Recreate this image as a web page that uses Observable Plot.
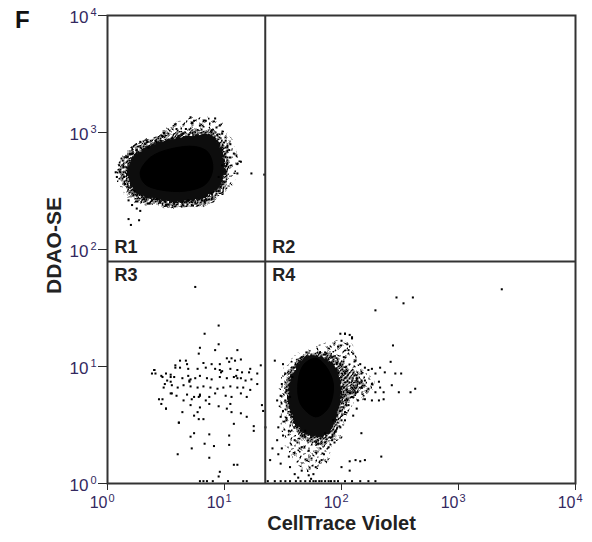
<!DOCTYPE html>
<html>
<head>
<meta charset="utf-8">
<script src="https://cdn.jsdelivr.net/npm/d3@7"></script>
<script src="https://cdn.jsdelivr.net/npm/@observablehq/plot@0.6"></script>
<style>
  body { margin: 0; background: #fff; }
  #wrap { position: relative; width: 592px; height: 542px; }
  #letter { position: absolute; left: 15px; top: 6px; font: bold 24px 'Liberation Sans', Arial, sans-serif; color: #111; }
</style>
</head>
<body>
<div id="wrap"><div id="chart"></div><div id="letter"></div></div>
<script>
// ---- Data (log10 of intensity: [CellTrace Violet, DDAO-SE]) ----
const panelLetter = "F";
const xTitle = ["CellTrace Violet"];
const yTitle = ["DDAO-SE"];
const decadeTicks = [1, 10, 100, 1000, 10000];
const decadeExponents = ["0", "1", "2", "3", "4"];
const gateX = [22.3];
const gateY = [79];
const regionNames = ["R1", "R2", "R3", "R4"];

// population outlines: sparse halo, dense fringe, body, core
const r1Halo = [[0.07,2.66],[0.12,2.80],[0.25,2.90],[0.40,2.96],[0.58,3.08],[0.75,3.13],[0.93,3.11],[1.05,2.95],[1.12,2.76],[1.08,2.58],[0.96,2.45],[0.80,2.38],[0.55,2.35],[0.33,2.38],[0.18,2.45],[0.10,2.55]];
const r1Fringe = [[0.11,2.65],[0.15,2.80],[0.27,2.91],[0.44,2.97],[0.67,3.02],[0.91,3.02],[1.02,2.89],[1.05,2.72],[1.00,2.51],[0.86,2.40],[0.62,2.36],[0.40,2.38],[0.22,2.44],[0.14,2.54]];
const r1Outer = [[0.17,2.65],[0.20,2.76],[0.30,2.86],[0.45,2.92],[0.67,2.97],[0.89,2.97],[0.97,2.86],[1.00,2.72],[0.96,2.54],[0.84,2.45],[0.62,2.41],[0.41,2.43],[0.26,2.48],[0.19,2.56]];
const r1Core = [[0.28,2.66],[0.37,2.79],[0.54,2.86],[0.75,2.88],[0.86,2.83],[0.90,2.69],[0.84,2.56],[0.67,2.50],[0.45,2.51],[0.32,2.56]];
const r4Halo = [[1.47,0.70],[1.50,0.98],[1.62,1.10],[1.80,1.17],[1.97,1.22],[2.08,1.20],[2.15,1.02],[2.26,0.92],[2.28,0.80],[2.15,0.72],[2.05,0.60],[2.00,0.42],[1.90,0.25],[1.80,0.12],[1.68,0.12],[1.58,0.22],[1.50,0.40]];
const r4Fringe = [[1.54,0.62],[1.53,0.85],[1.60,1.03],[1.70,1.11],[1.85,1.13],[1.97,1.08],[2.08,0.97],[2.17,0.90],[2.20,0.83],[2.12,0.76],[2.03,0.68],[1.99,0.50],[1.92,0.37],[1.80,0.32],[1.68,0.37],[1.59,0.47]];
const r4Outer = [[1.78,1.09],[1.93,1.02],[2.00,0.82],[1.96,0.60],[1.89,0.43],[1.78,0.40],[1.63,0.48],[1.56,0.65],[1.55,0.82],[1.62,1.01],[1.69,1.08]];
const r4Core = [[1.78,1.07],[1.86,1.01],[1.93,0.85],[1.89,0.65],[1.78,0.57],[1.65,0.68],[1.63,0.88],[1.68,1.02]];

// individual events
const r1Events = [[0.71,3.13],[0.74,3.10],[0.58,3.07],[0.59,3.03],[0.84,3.10],[0.92,3.12],[0.96,3.06],[0.79,3.06],[0.67,3.03],[0.52,2.99],[0.47,2.97],[0.41,2.93],[0.34,2.92],[0.28,2.92],[0.98,2.99],[1.01,2.93],[1.05,2.90],[1.04,2.85],[1.08,2.82],[1.01,2.79],[0.98,2.72],[1.02,2.73],[1.11,2.73],[1.14,2.75],[1.11,2.65],[1.23,2.65],[0.95,2.62],[0.99,2.58],[0.95,2.50],[0.89,2.48],[0.84,2.43],[0.81,2.42],[0.75,2.40],[0.69,2.42],[0.64,2.40],[0.57,2.39],[0.50,2.38],[0.45,2.40],[0.38,2.42],[0.31,2.43],[0.25,2.46],[0.23,2.50],[0.18,2.53],[0.15,2.56],[0.14,2.62],[0.11,2.66],[0.10,2.72],[0.13,2.76],[0.17,2.79],[0.21,2.82],[0.25,2.85],[0.18,2.42],[0.21,2.38],[0.25,2.35],[0.28,2.33],[0.18,2.26],[0.27,2.25],[0.20,2.21],[0.35,2.87],[0.07,2.66],[0.08,2.62],[0.72,2.38],[0.42,2.43],[0.89,3.02],[0.64,2.99],[0.75,3.00],[1.34,2.64]];

const r4Events = [[2.03,1.28],[2.07,1.27],[2.00,1.22],[2.05,1.19],[2.09,1.24],[1.97,1.17],[2.06,1.14],[2.10,1.11],[2.02,1.08],[2.12,1.05],[2.16,1.02],[2.20,0.99],[2.23,0.97],[2.26,0.98],[2.29,0.94],[2.17,0.94],[2.13,0.90],[2.20,0.88],[2.26,0.85],[2.32,0.87],[2.33,0.82],[2.36,0.78],[2.29,0.78],[2.23,0.81],[2.17,0.82],[2.12,0.78],[2.09,0.74],[2.14,0.71],[2.20,0.72],[2.26,0.71],[2.32,0.71],[2.36,0.72],[2.06,0.67],[2.13,0.64],[2.03,0.61],[2.10,0.58],[2.00,0.54],[2.44,1.18],[2.42,1.04],[2.46,0.94],[2.51,0.94],[2.43,0.84],[2.49,0.78],[2.59,0.78],[2.63,0.81],[2.37,0.95],[2.33,0.99],
  [1.50,1.02],[1.43,1.05],[1.52,0.94],[1.49,0.85],[1.53,0.80],[1.48,0.75],[1.45,0.71],[1.52,0.71],[1.50,0.62],[1.48,0.57],[1.46,0.48],[1.53,0.54],[1.55,0.45],[1.50,0.41],[1.45,0.37],[1.49,0.30],[1.41,0.30],[1.46,0.25],[1.39,0.20],[1.48,0.17],[1.55,0.23],[1.56,0.14],[1.60,0.08],[1.63,0.05],[1.66,0.11],[1.72,0.07],[1.76,0.08],[1.78,0.14],[1.83,0.20],[1.85,0.25],[1.72,0.28],[1.66,0.31],[1.60,0.37],[1.69,0.40],[1.80,0.34],[1.89,0.31],[1.92,0.37],[1.95,0.45],[1.99,0.48],[2.03,0.54],[2.17,0.43],[2.20,0.20],[2.34,0.23],[2.12,0.20],[2.00,0.14],[2.07,0.11],[1.74,0.04],
  [1.70,1.12],[1.66,1.08],[1.86,1.12],[1.92,1.08],[1.59,0.99],[1.58,0.91],[1.56,0.74],[1.58,0.57],[1.62,0.48],[1.69,0.45],[1.86,0.43],[1.93,0.54],[1.99,0.62],[2.03,0.71],[2.02,0.82],[2.03,0.94],[1.99,1.02],
  [2.47,1.59],[2.61,1.59],[2.53,1.54],[2.29,1.48],[3.37,1.66],[1.99,1.28],[2.03,1.28],[2.09,1.25],[2.07,0.19],[2.16,0.19]];

const r3Events = [[0.75,1.68],[0.95,1.35],[0.83,1.28],[0.79,1.16],[0.95,1.19],[0.92,1.14],[1.11,1.14],[0.78,1.11],[1.02,1.07],[1.06,1.07],[1.14,1.06],[0.67,1.05],[0.82,1.03],[0.89,1.02],[0.96,1.02],[1.04,1.04],[1.09,1.05],[1.22,0.98],[1.31,1.01],[0.58,1.01],[0.62,0.99],[0.69,0.98],[0.77,0.98],[0.84,0.99],[0.92,0.98],[0.98,0.96],[1.05,0.98],[1.11,0.97],[1.15,0.95],[1.21,0.95],[1.28,0.94],[0.40,0.97],[0.50,0.94],[0.54,0.93],[0.57,0.91],[0.64,0.90],[0.69,0.92],[0.70,0.88],[0.75,0.90],[0.79,0.92],[0.85,0.90],[0.89,0.89],[0.96,0.91],[1.02,0.90],[1.08,0.91],[1.14,0.90],[1.18,0.88],[1.23,0.89],[1.28,0.85],[0.51,0.88],[0.47,0.91],[0.54,0.87],[0.55,0.84],[0.60,0.82],[0.65,0.84],[0.71,0.83],[0.77,0.82],[0.82,0.83],[0.88,0.82],[0.94,0.81],[0.99,0.82],[1.05,0.83],[1.11,0.82],[1.16,0.82],[1.22,0.80],[0.48,0.82],[0.41,0.94],[0.54,0.77],[0.59,0.75],[0.68,0.76],[0.74,0.74],[0.79,0.75],[0.87,0.74],[0.92,0.77],[1.01,0.75],[1.06,0.74],[1.14,0.77],[1.19,0.74],[0.47,0.72],[0.65,0.71],[0.72,0.72],[0.84,0.71],[0.50,0.64],[0.71,0.67],[0.79,0.65],[0.87,0.68],[0.95,0.66],[1.02,0.64],[1.06,0.61],[1.14,0.60],[1.19,0.57],[0.77,0.61],[0.74,0.58],[0.64,0.61],[1.32,0.67],[1.33,0.62],[1.05,0.68],[0.61,0.52],[0.78,0.55],[0.82,0.55],[1.08,0.51],[1.25,0.49],[1.25,0.45],[1.35,0.48],[0.74,0.43],[0.71,0.40],[0.87,0.42],[1.04,0.41],[0.72,0.30],[0.83,0.34],[0.91,0.32],[1.04,0.33],[0.60,0.25],[0.87,0.22],[1.08,0.16],[1.11,0.16],[0.96,0.10],[0.95,0.06],
  [0.38,0.94],[0.40,0.97],[0.46,0.92],[0.49,0.85],[0.44,0.72],[0.46,0.68],[0.50,0.64],[0.55,0.77],[0.61,0.52],[0.54,0.91],[0.58,0.99],[0.62,1.05],[0.68,1.02],
  [0.70,0.87],[0.71,0.89],[0.78,0.74],[0.79,0.76],[0.96,0.97],[0.97,0.95],[1.10,0.92],[1.11,0.90]];

const floorEvents = [[0.79,0.02],[0.82,0.02],[0.85,0.02],[0.90,0.02],[1.03,0.02],[1.16,0.02],[1.19,0.02],[1.37,0.02],[1.43,0.02],[1.48,0.02],[1.52,0.02],[1.56,0.02],[1.61,0.02],[1.65,0.02],[1.69,0.02],[1.73,0.02],[1.76,0.02],[1.78,0.02],[1.81,0.02],[1.83,0.02],[1.86,0.02],[1.89,0.02],[1.91,0.02],[1.94,0.02],[1.97,0.02],[2.03,0.02],[2.09,0.02],[2.16,0.02],[2.23,0.02],[2.29,0.02]];

// ---- build ----
const toPts = arr => arr.map(([a, b]) => ({x: 10 ** a, y: 10 ** b}));
const events = toPts([...r1Events, ...r4Events, ...r3Events, ...floorEvents]);
const tickRows = decadeTicks.map((v, i) => ({v, e: decadeExponents[i]}));
const regions = regionNames.map((label, i) => ({label, x: i % 2 ? gateX[0] : 1, y: gateY[0], above: i < 2}));
const labelColor = "#34295f";
const blob = (pts, fill, strokeOpacity = 1) =>
  Plot.line(toPts(pts), {x: "x", y: "y", curve: "catmull-rom-closed", fill, stroke: fill, strokeWidth: 1, strokeOpacity});

const chart = Plot.plot({
  width: 592,
  height: 542,
  marginLeft: 107,
  marginRight: 17,
  marginTop: 15,
  marginBottom: 59,
  style: {fontFamily: "'Liberation Sans', Arial, sans-serif", fontSize: "15px", background: "#fff", color: "#2a2a2a"},
  x: {type: "log", domain: [1, 1e4], ticks: decadeTicks, tickFormat: () => "", tickSize: 7, label: null},
  y: {type: "log", domain: [1, 1e4], ticks: decadeTicks, tickFormat: () => "", tickSize: 9, label: null},
  marks: [
    blob(r1Halo, "#000", 0),
    blob(r4Halo, "#000", 0),
    blob(r1Fringe, "#000", 0),
    blob(r4Fringe, "#000", 0),
    blob(r1Outer, "#111"),
    blob(r4Outer, "#111"),
    blob(r1Core, "#000"),
    blob(r4Core, "#000"),
    Plot.dot(events, {x: "x", y: "y", symbol: "square", r: 1.15, fill: "#000"}),
    Plot.ruleX(gateX, {stroke: "#333", strokeWidth: 2}),
    Plot.ruleY(gateY, {stroke: "#333", strokeWidth: 2}),
    Plot.frame({stroke: "#333", strokeWidth: 2}),
    // tick labels 10^n
    Plot.text(tickRows, {x: "v", frameAnchor: "bottom", text: () => "10", textAnchor: "end", lineAnchor: "middle", dx: 0, dy: 19.5, fontSize: 16, fill: labelColor}),
    Plot.text(tickRows, {x: "v", frameAnchor: "bottom", text: "e", textAnchor: "start", lineAnchor: "middle", dx: 1, dy: 15, fontSize: 11, fill: labelColor}),
    Plot.text(tickRows, {y: "v", frameAnchor: "left", text: () => "10", textAnchor: "end", lineAnchor: "middle", dx: -19, dy: 2, fontSize: 17, fill: labelColor}),
    Plot.text(tickRows, {y: "v", frameAnchor: "left", text: "e", textAnchor: "start", lineAnchor: "middle", dx: -17, dy: -3, fontSize: 11, fill: labelColor}),
    // region labels
    Plot.text(regions.filter(d => d.above), {x: "x", y: "y", text: "label", textAnchor: "start", lineAnchor: "middle", dx: 7, dy: -14, fontSize: 18, fontWeight: "bold", fill: "#222"}),
    Plot.text(regions.filter(d => !d.above), {x: "x", y: "y", text: "label", textAnchor: "start", lineAnchor: "middle", dx: 7, dy: 14, fontSize: 18, fontWeight: "bold", fill: "#222"}),
    // axis titles
    Plot.text(xTitle, {frameAnchor: "bottom", text: d => d, textAnchor: "middle", lineAnchor: "middle", dy: 40, fontSize: 20, fontWeight: "bold", fill: "#222"}),
    Plot.text(yTitle, {frameAnchor: "left", text: d => d, textAnchor: "middle", lineAnchor: "middle", dx: -53, dy: -4, rotate: -90, fontSize: 21, fontWeight: "bold", fill: "#222"})
  ]
});

// textures used to render the speckled edge of the dense populations
const NS = "http://www.w3.org/2000/svg";
const el = (tag, attrs, parent) => { const e = document.createElementNS(NS, tag); for (const k in attrs) e.setAttribute(k, attrs[k]); parent.appendChild(e); return e; };
const defs = el("defs", {}, chart);
chart.insertBefore(defs, chart.firstChild);
const pS = el("pattern", {id: "speckleSparse", width: 9, height: 9, patternUnits: "userSpaceOnUse"}, defs);
[[0, 0], [5, 3], [2, 6]].forEach(([x, y]) => el("rect", {x, y, width: 2, height: 2, fill: "#000"}, pS));
const pD = el("pattern", {id: "speckleDense", width: 5, height: 5, patternUnits: "userSpaceOnUse"}, defs);
[[0, 0], [3, 1], [1, 3]].forEach(([x, y]) => el("rect", {x, y, width: 2, height: 2, fill: "#000"}, pD));
const fJ = el("filter", {id: "jitter", x: "-10%", y: "-10%", width: "120%", height: "120%"}, defs);
el("feTurbulence", {type: "fractalNoise", baseFrequency: 0.12, numOctaves: 1, seed: 7, result: "n"}, fJ);
el("feDisplacementMap", {in: "SourceGraphic", in2: "n", scale: 9, xChannelSelector: "R", yChannelSelector: "G"}, fJ);
const fR = el("filter", {id: "rough", x: "-10%", y: "-10%", width: "120%", height: "120%"}, defs);
el("feTurbulence", {type: "fractalNoise", baseFrequency: 0.3, numOctaves: 2, seed: 3, result: "n"}, fR);
el("feDisplacementMap", {in: "SourceGraphic", in2: "n", scale: 6, xChannelSelector: "R", yChannelSelector: "G"}, fR);

// assign textures to the population layers (in mark order: 2 halos, 2 fringes, 2 bodies, 2 cores)
const layers = chart.querySelectorAll('g[aria-label="line"]');
const roles = [["speckleSparse", "jitter"], ["speckleSparse", "jitter"], ["speckleDense", "jitter"], ["speckleDense", "jitter"], [null, "rough"], [null, "rough"]];
roles.forEach(([pat, filt], i) => {
  const g = layers[i];
  if (!g) return;
  g.querySelectorAll("path").forEach(p => {
    if (pat) p.setAttribute("fill", `url(#${pat})`);
    p.setAttribute("filter", `url(#${filt})`);
  });
  if (pat) g.setAttribute("fill", `url(#${pat})`);
});

document.getElementById("chart").appendChild(chart);
document.getElementById("letter").textContent = panelLetter;
</script>
</body>
</html>
